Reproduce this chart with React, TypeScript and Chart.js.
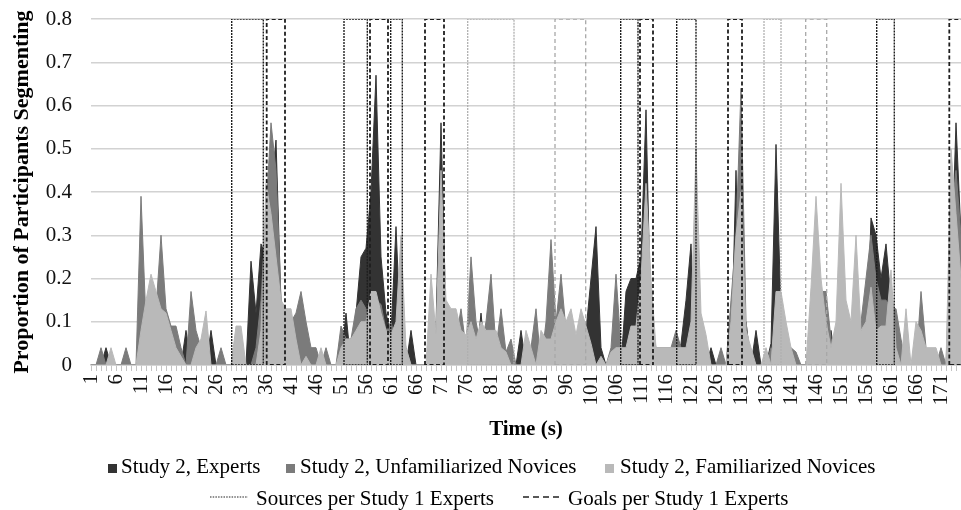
import React, { useEffect, useRef } from 'react';
import { Chart, registerables } from 'chart.js';

Chart.register(...registerables);

// Time in seconds (category positions)
const TIME_SECONDS: number[] = Array.from({ length: 175 }, (_, i) => i + 1);

// Study 2, Experts
const EXPERTS: number[] = [
  0, 0, 0, .04, 0, 0, 0, 0, 0, 0,
  0, 0, 0, 0, 0, 0, 0, 0, 0, .08,
  0, 0, 0, 0, .08, 0, 0, 0, 0, 0,
  0, 0, .24, .12, .28, .25, .4, .52, .14, 0,
  0, 0, 0, 0, 0, 0, 0, 0, 0, 0,
  0, .12, 0, .12, .25, .27, .4, .67, .25, .12,
  .07, .32, .05, 0, .08, 0, 0, 0, 0, .09,
  .56, .1, 0, 0, 0, 0, 0, 0, .12, 0,
  0, 0, 0, 0, 0, 0, .08, 0, 0, 0,
  0, 0, 0, 0, 0, 0, 0, 0, 0, .08,
  .2, .32, .04, 0, 0, 0, 0, .17, .2, .2,
  .25, .59, .08, 0, 0, 0, 0, 0, .05, .15,
  .28, 0, 0, 0, .04, 0, 0, 0, 0, .45,
  0, .1, 0, .08, 0, 0, .05, .51, .12, 0,
  0, 0, 0, 0, 0, 0, 0, 0, .08, 0,
  0, .12, 0, 0, 0, 0, .34, .3, .2, .28,
  .15, .1, .04, 0, 0, 0, 0, 0, 0, 0,
  0, 0, .2, .56, .3,
];

// Study 2, Unfamiliarized Novices
const UNFAMILIARIZED: number[] = [
  0, 0, .04, 0, 0, 0, 0, .04, 0, 0,
  .39, .1, .12, .13, .3, .13, .09, .09, .04, 0,
  .17, .08, .04, 0, 0, 0, .04, 0, 0, 0,
  0, 0, 0, .04, .15, .35, .56, .45, .15, .04,
  .1, .12, .17, .1, .04, .04, 0, .04, 0, 0,
  .09, .06, .06, .13, .15, .13, .1, .15, .14, .08,
  .1, .05, .1, .04, 0, 0, 0, 0, 0, .08,
  .3, .08, .04, .06, .13, .04, .25, .1, .04, .1,
  .21, .04, .13, .03, .06, 0, 0, 0, .04, .13,
  0, .1, .29, .1, .21, .08, 0, .04, 0, 0,
  0, 0, 0, 0, .04, .21, .04, 0, 0, 0,
  .15, .35, .1, .04, .04, .04, .04, .08, .04, 0,
  0, .2, .1, .04, 0, 0, .04, 0, .15, .3,
  .64, .1, 0, 0, 0, 0, .04, 0, 0, .04,
  .04, .03, 0, 0, 0, .2, .17, .17, .06, .04,
  0, .08, .04, 0, .1, .2, .3, .2, .15, .15,
  .13, .13, .06, 0, 0, 0, .17, .04, 0, 0,
  .04, 0, .35, .45, .3,
];

// Study 2, Familiarized Novices
const FAMILIARIZED: number[] = [
  0, 0, 0, 0, .04, 0, 0, 0, 0, 0,
  .08, .15, .21, .17, .13, .12, .08, .04, .02, 0,
  0, .04, .06, .125, 0, 0, 0, 0, 0, .09,
  .09, 0, 0, 0, .08, .42, .35, .25, .15, .13,
  .13, .06, 0, .02, 0, 0, .04, 0, 0, 0,
  .04, .06, .06, .08, .1, .1, .17, .17, .12, .08,
  .07, .1, .3, .04, 0, 0, 0, 0, .21, .07,
  .45, .15, .13, .13, .08, .07, .1, .06, .1, .08,
  .08, .08, .04, .03, 0, 0, 0, .08, .04, 0,
  .08, .06, .06, .1, .13, .1, .13, .07, .13, .09,
  .05, 0, .02, 0, .03, .04, .04, .04, .09, .09,
  .2, .42, .2, .04, .04, .04, .04, .04, .04, .04,
  .1, .5, .12, .07, 0, 0, 0, 0, .1, .3,
  .4, .08, .04, 0, 0, .04, 0, .17, .17, .1,
  .04, 0, 0, 0, .18, .39, .2, .1, .04, .1,
  .42, .15, .1, .3, .08, .1, .18, .08, .09, .09,
  .22, .04, 0, .13, 0, .1, .08, .04, .04, .04,
  0, 0, .5, .35, .2,
];

// Study 1 Experts segments: [start, end] in seconds
const SOURCES_BOXES: number[][] = [
  [29.14, 35.46], [51.6, 56.26], [60.94, 63.26], [106.94, 110.4], [118.14, 122], [158.14, 161.66],
];
const GOALS_BOXES: number[][] = [
  [36.14, 39.8], [56.8, 60.4], [67.8, 71.6], [110.8, 113.4], [128.4, 131.2], [172.66, 180],
];
const SOURCES_BOXES_LIGHT: number[][] = [[76.34, 85.6], [135.6, 139]];
const GOALS_BOXES_LIGHT: number[][] = [[93.8, 99.94], [143.94, 148.14]];
const BOX_TOP = 0.8;

const SERIES_LABELS = [
  'Study 2, Experts',
  'Study 2, Unfamiliarized Novices',
  'Study 2, Familiarized Novices',
];
const LINE_LABELS = ['Sources per Study 1 Experts', 'Goals per Study 1 Experts'];

const C_DARK = '#333333';
const C_MED = '#7b7b7b';
const C_LIGHT = '#b9b9b9';
const FONT = "'Liberation Serif', 'Times New Roman', serif";

function boxPoints(boxes: number[][]) {
  const pts: { x: number; y: number | null }[] = [];
  boxes.forEach(([a, b]) => {
    pts.push({ x: a, y: 0 }, { x: a, y: BOX_TOP }, { x: b, y: BOX_TOP }, { x: b, y: 0 }, { x: a, y: 0 });
    pts.push({ x: b, y: null });
  });
  return pts;
}

function series(values: number[]) {
  return values.map((v, i) => ({ x: TIME_SECONDS[i], y: v }));
}

export default function App() {
  const ref = useRef<HTMLCanvasElement | null>(null);

  useEffect(() => {
    document.body.style.margin = '0';
    const canvas = ref.current;
    if (!canvas) return;
    Chart.defaults.font.family = FONT;
    const area = (label: string, data: number[], color: string, order: number) => ({
      type: 'line' as const,
      label,
      data: series(data),
      backgroundColor: color,
      borderColor: color,
      borderWidth: 1,
      pointRadius: 0,
      tension: 0,
      fill: 'origin',
      order,
    });
    const box = (label: string, data: number[][], color: string, dash: number[], width: number) => ({
      type: 'line' as const,
      label,
      data: boxPoints(data),
      borderColor: color,
      borderWidth: width,
      borderDash: dash,
      pointRadius: 0,
      fill: false,
      spanGaps: false,
      tension: 0,
      order: 0,
    });
    const chart = new Chart(canvas, {
      type: 'line',
      data: {
        datasets: [
          box(LINE_LABELS[0], SOURCES_BOXES, '#1e1e1e', [2, 1], 1.4),
          box(LINE_LABELS[1], GOALS_BOXES, '#1e1e1e', [4, 2.5], 1.8),
          box('light sources', SOURCES_BOXES_LIGHT, '#b0b0b0', [2, 1], 1.3),
          box('light goals', GOALS_BOXES_LIGHT, '#a8a8a8', [4, 3], 1.3),
          area(SERIES_LABELS[2], FAMILIARIZED, C_LIGHT, 1),
          area(SERIES_LABELS[1], UNFAMILIARIZED, C_MED, 2),
          area(SERIES_LABELS[0], EXPERTS, C_DARK, 3),
        ] as any,
      },
      options: {
        responsive: false,
        animation: false,
        events: [],
        layout: { padding: { top: 19, left: 0, right: 0, bottom: 0 } },
        plugins: { legend: { display: false }, tooltip: { enabled: false } },
        scales: {
          x: {
            type: 'linear',
            min: 1,
            max: 175,
            afterFit: (s: any) => {
              s.paddingLeft = 0;
              s.paddingRight = 0;
              s.height = 145;
            },
            ticks: {
              stepSize: 1,
              autoSkip: false,
              maxRotation: 90,
              minRotation: 90,
              padding: 3,
              color: '#111',
              font: { size: 21, family: FONT },
              callback: (v: any) => ((Number(v) - 1) % 5 === 0 ? String(v) : ''),
            },
            grid: { drawOnChartArea: false, drawTicks: true, tickLength: 6, color: '#c4c4c4', lineWidth: 1 },
            border: { display: true, color: '#c4c4c4', width: 1.5 },
            title: {
              display: true,
              text: 'Time (s)',
              color: '#000',
              font: { size: 21, weight: 'bold', family: FONT },
              padding: { top: 0, bottom: 68 },
            },
          },
          y: {
            min: 0,
            max: 0.8,
            afterFit: (s: any) => {
              s.width = 91;
              s.paddingTop = 0;
              s.paddingBottom = 0;
            },
            ticks: {
              stepSize: 0.1,
              padding: 19,
              color: '#111',
              font: { size: 21, family: FONT },
              callback: (v: any) => (Number(v) === 0 ? '0' : Number(v).toFixed(1)),
            },
            grid: { color: '#d2d2d2', lineWidth: 1.5, drawTicks: false },
            border: { display: false },
            title: {
              display: true,
              text: 'Proportion of Participants Segmenting',
              color: '#000',
              font: { size: 22, weight: 'bold', family: FONT },
              padding: { top: 9, bottom: 0 },
            },
          },
        },
      } as any,
    });
    return () => chart.destroy();
  }, []);

  const txt: React.CSSProperties = {
    position: 'absolute',
    fontFamily: FONT,
    fontSize: 21,
    lineHeight: '21px',
    color: '#000',
    whiteSpace: 'nowrap',
  };
  const sq = (left: number, color: string): React.CSSProperties => ({
    position: 'absolute',
    left,
    top: 464,
    width: 9,
    height: 9,
    background: color,
  });

  return (
    <div style={{ position: 'relative', width: 961, height: 510, overflow: 'hidden', background: '#fff' }}>
      <canvas ref={ref} width={961} height={510} style={{ position: 'absolute', left: 0, top: 0 }} />
      <div style={sq(108, C_DARK)} />
      <div style={{ ...txt, left: 121, top: 456 }}>{SERIES_LABELS[0]}</div>
      <div style={sq(286, C_MED)} />
      <div style={{ ...txt, left: 300, top: 456 }}>{SERIES_LABELS[1]}</div>
      <div style={sq(605, C_LIGHT)} />
      <div style={{ ...txt, left: 620, top: 456 }}>{SERIES_LABELS[2]}</div>
      <svg style={{ position: 'absolute', left: 0, top: 0 }} width={961} height={510}>
        <line x1={210} y1={497} x2={248} y2={497} stroke="#222" strokeWidth={1.2} strokeDasharray="1.5 1.2" />
        <line x1={523} y1={497} x2={563} y2={497} stroke="#222" strokeWidth={1.4} strokeDasharray="6 4" />
      </svg>
      <div style={{ ...txt, left: 256, top: 488 }}>{LINE_LABELS[0]}</div>
      <div style={{ ...txt, left: 568, top: 488 }}>{LINE_LABELS[1]}</div>
    </div>
  );
}
